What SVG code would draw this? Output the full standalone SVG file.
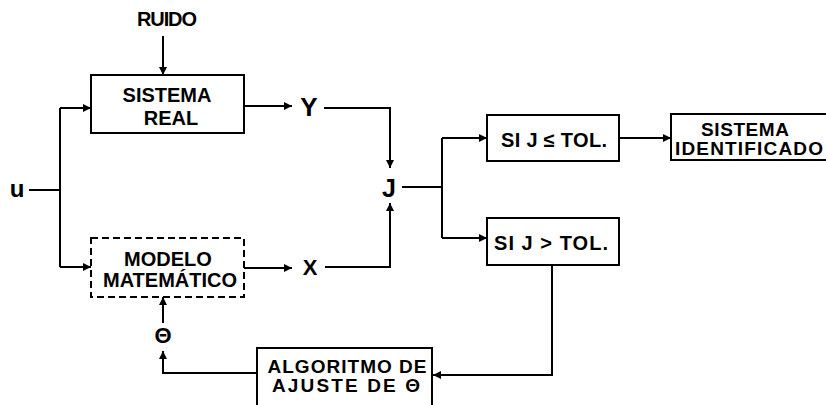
<svg xmlns="http://www.w3.org/2000/svg" width="826" height="405" viewBox="0 0 826 405">
<style>
  .t { font-family: "Liberation Sans", Arial, sans-serif; font-weight: bold; font-size: 20px; fill: #000; text-anchor: middle; }
  .s { font-size: 19px; }
  .box { fill: #fff; stroke: #000; stroke-width: 2; }
  .dash { fill: #fff; stroke: #000; stroke-width: 2; stroke-dasharray: 7 4; }
  .c { fill: none; stroke: #000; stroke-width: 2; }
</style>
<defs>
  <marker id="ah" viewBox="0 0 10 10" refX="10" refY="5" markerUnits="userSpaceOnUse" markerWidth="9" markerHeight="8" orient="auto">
    <path d="M0,0 L10,5 L0,10 z" fill="#000"/>
  </marker>
</defs>
<rect width="826" height="405" fill="#fff"/>

<g id="connectors">
  <path class="c" d="M163,36 V75" marker-end="url(#ah)"/>
  <path class="c" d="M29,190 H60"/>
  <path class="c" d="M60,108 V267"/>
  <path class="c" d="M60,108 H91" marker-end="url(#ah)"/>
  <path class="c" d="M60,267 H91" marker-end="url(#ah)"/>
  <path class="c" d="M244,106 H292" marker-end="url(#ah)"/>
  <path class="c" d="M324,108 H390 V168" marker-end="url(#ah)"/>
  <path class="c" d="M244,268 H292" marker-end="url(#ah)"/>
  <path class="c" d="M325,267 H390 V203" marker-end="url(#ah)"/>
  <path class="c" d="M402,187 H442"/>
  <path class="c" d="M442,138 V238"/>
  <path class="c" d="M442,138 H487" marker-end="url(#ah)"/>
  <path class="c" d="M442,238 H487" marker-end="url(#ah)"/>
  <path class="c" d="M619,138 H671" marker-end="url(#ah)"/>
  <path class="c" d="M552,265 V375 H433" marker-end="url(#ah)"/>
  <path class="c" d="M257,373 H163 V351" marker-end="url(#ah)"/>
  <path class="c" d="M163,323 V297" marker-end="url(#ah)"/>
</g>

<g id="ruido"><text class="t" x="167" y="26" textLength="60">RUIDO</text></g>
<g id="u"><text class="t" x="17" y="197" style="font-size:24px">u</text></g>

<g id="sistema-real">
  <rect class="box" x="91" y="75" width="153" height="58"/>
  <text class="t" x="167" y="102">SISTEMA</text>
  <text class="t" x="171" y="125">REAL</text>
</g>

<g id="modelo">
  <rect class="dash" x="91" y="238" width="153" height="59"/>
  <text class="t" x="168" y="266">MODELO</text>
  <text class="t" x="170" y="287">MATEMÁTICO</text>
</g>

<g id="y"><text class="t" x="309" y="116" style="font-size:26px">Y</text></g>
<g id="x"><text class="t" x="310" y="275" style="font-size:22px">X</text></g>
<g id="j"><text class="t" x="389" y="197" style="font-size:25px">J</text></g>
<g id="theta"><text class="t" x="163" y="343" style="font-size:22px">Θ</text></g>

<g id="si-menor">
  <rect class="box" x="487" y="115" width="132" height="46"/>
  <text class="t" x="554" y="147" textLength="106">SI J ≤ TOL.</text>
</g>

<g id="si-mayor">
  <rect class="box" x="487" y="218" width="132" height="47"/>
  <text class="t" x="551" y="250" textLength="114">SI J &gt; TOL.</text>
</g>

<g id="sistema-identificado">
  <rect class="box" x="671" y="114" width="170" height="46"/>
  <text class="t s" x="745" y="136" textLength="88">SISTEMA</text>
  <text class="t s" x="749" y="155" textLength="148">IDENTIFICADO</text>
</g>

<g id="algoritmo">
  <rect class="box" x="257" y="348" width="175" height="70"/>
  <text class="t s" x="347" y="373" textLength="159">ALGORITMO DE</text>
  <text class="t s" x="346" y="392" textLength="148">AJUSTE DE Θ</text>
</g>
</svg>
